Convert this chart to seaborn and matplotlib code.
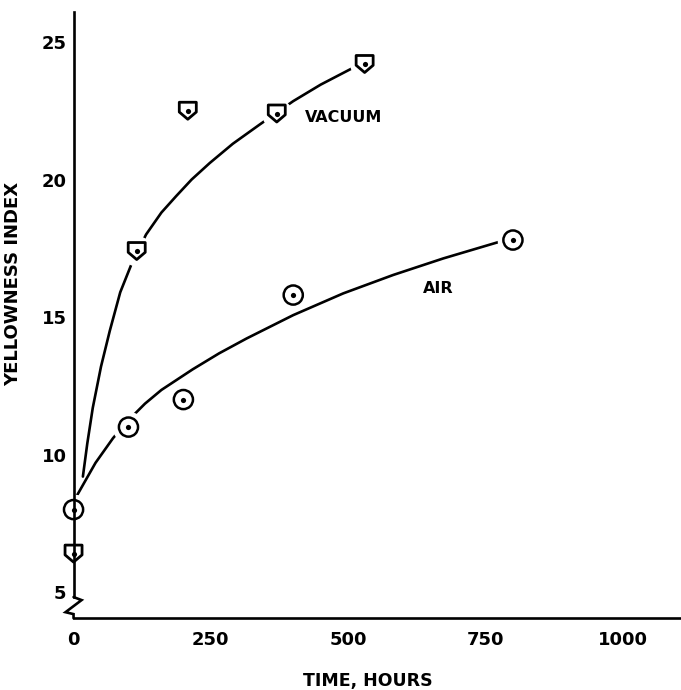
import matplotlib
matplotlib.use("Agg")
import matplotlib.pyplot as plt
from matplotlib.path import Path
import seaborn as sns

# measured points
vac_hours = [0, 115, 208, 370, 530]
vac_yi = [6.4, 17.4, 22.5, 22.4, 24.2]
air_hours = [0, 100, 200, 400, 800]
air_yi = [8.0, 11.0, 12.0, 15.8, 17.8]

# hand-drawn curves
vac_curve_h = [17, 25, 35, 50, 66, 85, 105, 132, 160, 187, 215, 248, 290, 339, 400, 450, 503, 530]
vac_curve_y = [9.2, 10.4, 11.7, 13.2, 14.5, 15.9, 16.9, 18.0, 18.8, 19.4, 20.0, 20.6, 21.3, 22.0,
               22.85, 23.45, 24.0, 24.25]
air_curve_h = [5, 40, 72, 100, 130, 160, 217, 265, 315, 400, 491, 582, 673, 776, 800]
air_curve_y = [8.47, 9.7, 10.6, 11.25, 11.85, 12.35, 13.1, 13.68, 14.22, 15.07, 15.86, 16.53,
               17.13, 17.74, 17.8]

x_ticks = [0, 250, 500, 750, 1000]
y_ticks = [5, 10, 15, 20, 25]

sns.set_style("white")
plt.rcParams['font.family'] = ['DejaVu Sans']
plt.rcParams['font.weight'] = 'bold'
plt.rcParams['text.color'] = 'black'
plt.rcParams['axes.labelcolor'] = 'black'

fig = plt.figure(figsize=(6.81, 6.90), dpi=100)
ax = fig.add_axes([0.108, 0.104, 0.892, 0.879])

# shield-shaped marker for the vacuum series
shield = Path([(-1, 1), (1, 1), (1, -0.15), (0, -1), (-1, -0.15), (-1, 1)],
              [Path.MOVETO, Path.LINETO, Path.LINETO, Path.LINETO, Path.LINETO, Path.CLOSEPOLY])

sns.lineplot(x=vac_curve_h, y=vac_curve_y, sort=False, estimator=None, color='black', lw=1.9, ax=ax, zorder=2)
sns.lineplot(x=air_curve_h, y=air_curve_y, sort=False, estimator=None, color='black', lw=1.9, ax=ax, zorder=2)

# white halos so the curves stop short of the symbols
ax.scatter(vac_hours, vac_yi, s=480, marker='o', color='white', linewidths=0, zorder=2.2, clip_on=False)
ax.scatter(air_hours, air_yi, s=520, marker='o', color='white', linewidths=0, zorder=2.2, clip_on=False)

ax.scatter(vac_hours, vac_yi, s=150, marker=shield, facecolors='none', edgecolors='black',
           linewidths=2.0, zorder=3, clip_on=False)
ax.scatter(air_hours, air_yi, s=190, marker='o', facecolors='none', edgecolors='black',
           linewidths=1.8, zorder=3, clip_on=False)
sns.scatterplot(x=vac_hours + air_hours, y=vac_yi + air_yi, s=14, color='black', linewidth=0,
                ax=ax, zorder=3.1, clip_on=False)

ax.text(421, 22.27, 'VACUUM', fontsize=11.5, fontweight='bold', va='center', ha='left', color='black')
ax.text(636, 16.05, 'AIR', fontsize=11.5, fontweight='bold', va='center', ha='left', color='black')

ax.set_xlim(0, 1106)
ax.set_ylim(4.05, 26.1)
ax.set_xticks(x_ticks)
ax.set_yticks(y_ticks)
ax.set_xticklabels([str(v) for v in x_ticks], fontsize=13, fontweight='bold')
ax.set_yticklabels([str(v) for v in y_ticks], fontsize=13, fontweight='bold')
ax.tick_params(axis='x', direction='in', length=9.5, width=1.5, pad=9, colors='black')
ax.tick_params(axis='y', direction='in', length=12, width=1.5, pad=5, colors='black')

for side in ['top', 'right']:
    ax.spines[side].set_visible(False)
for side in ['left', 'bottom']:
    ax.spines[side].set_linewidth(1.9)
    ax.spines[side].set_color('black')
ax.spines['left'].set_bounds(4.82, 26.1)

# axis break on the y axis
ax.plot([0, 14.6, -14.6, 0, 0], [4.82, 4.71, 4.27, 4.2, 4.05], color='black', lw=1.9,
        clip_on=False, zorder=2.6, solid_joinstyle='miter')

ax.set_xlabel('TIME, HOURS', fontsize=12.5, fontweight='bold', color='black')
ax.set_ylabel('YELLOWNESS INDEX', fontsize=13, fontweight='bold', color='black')
ax.xaxis.set_label_coords(0.485, -0.088)
ax.yaxis.set_label_coords(-0.084, 0.551)

fig.savefig('out.png', dpi=100)
